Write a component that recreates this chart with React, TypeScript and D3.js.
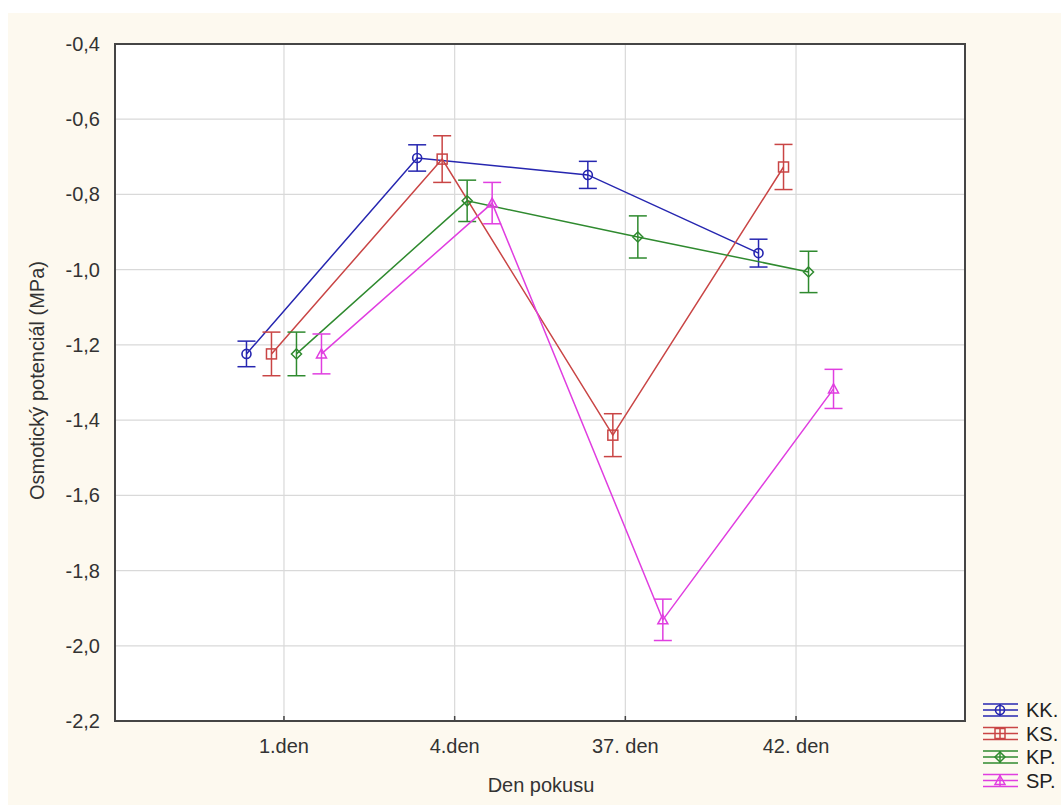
import React from "react";
import * as d3 from "d3";

const categories = ["1.den", "4.den", "37. den", "42. den"];
const seriesNames = ["KK.", "KS.", "KP.", "SP."];
const seriesColors = ["#2626b0", "#c94545", "#2f8a2f", "#e03ee0"];
const seriesShapes = ["circle", "square", "diamond", "triangle"];
const kkMean = [-1.224, -0.703, -0.748, -0.956];
const kkErr = [0.034, 0.035, 0.036, 0.037];
const ksMean = [-1.224, -0.706, -1.440, -0.727];
const ksErr = [0.058, 0.062, 0.057, 0.060];
const kpMean = [-1.224, -0.817, -0.913, -1.006];
const kpErr = [0.058, 0.055, 0.056, 0.055];
const spMean = [-1.224, -0.823, -1.931, -1.317];
const spErr = [0.053, 0.055, 0.055, 0.052];
const yTicks = [-0.4, -0.6, -0.8, -1.0, -1.2, -1.4, -1.6, -1.8, -2.0, -2.2];

const means = [kkMean, ksMean, kpMean, spMean];
const errs = [kkErr, ksErr, kpErr, spErr];

const W = 1061, H = 805;
const left = 115, right = 965, top = 44, bottom = 721;

function Marker({ shape, x, y, color }: { shape: string; x: number; y: number; color: string }) {
  const s = 5;
  if (shape === "circle") return <circle cx={x} cy={y} r={4.5} fill="none" stroke={color} strokeWidth={1.6} />;
  if (shape === "square") return <rect x={x - s} y={y - s} width={2 * s} height={2 * s} fill="none" stroke={color} strokeWidth={1.5} />;
  if (shape === "diamond") return <path d={`M${x},${y - s}L${x + s},${y}L${x},${y + s}L${x - s},${y}Z`} fill="none" stroke={color} strokeWidth={1.5} />;
  return <path d={`M${x},${y - s}L${x + s},${y + s - 1}L${x - s},${y + s - 1}Z`} fill="none" stroke={color} strokeWidth={1.5} />;
}

export default function App() {
  const x = d3.scalePoint<string>().domain(categories).range([left, right]).padding(0.99);
  const y = d3.scaleLinear().domain([-2.2, -0.4]).range([bottom, top]);
  const offsets = [-37.5, -12.5, 12.5, 37.5];
  const line = d3.line<[number, number]>().x(d => d[0]).y(d => d[1]);
  const fmt = (v: number) => v.toFixed(1).replace(".", ",");
  const font = "'Liberation Sans', Arial, sans-serif";

  return (
    <svg width={W} height={H} style={{ position: "absolute", left: 0, top: 0 }} fontFamily={font}>
      <rect x={0} y={0} width={W} height={H} fill="#ffffff" />
      <rect x={8} y={13} width={W - 8} height={H - 13} fill="#fdf9ef" />
      <rect x={left} y={top} width={right - left} height={bottom - top} fill="#ffffff" />
      {yTicks.map(t => (
        <line key={"g" + t} x1={left} x2={right} y1={y(t)} y2={y(t)} stroke="#d9d9d9" strokeWidth={1.2} />
      ))}
      {categories.map(c => (
        <line key={"gx" + c} x1={x(c)!} x2={x(c)!} y1={top} y2={bottom} stroke="#d9d9d9" strokeWidth={1.2} />
      ))}
      {yTicks.map(t => (
        <text key={"t" + t} x={100} y={y(t)} dy="0.35em" textAnchor="end" fontSize={20} fill="#333">{fmt(t)}</text>
      ))}
      {categories.map(c => (
        <g key={"xt" + c}>
          <line x1={x(c)!} x2={x(c)!} y1={bottom} y2={bottom - 5} stroke="#444" strokeWidth={1.5} />
          <text x={x(c)!} y={753} textAnchor="middle" fontSize={20} fill="#333">{c}</text>
        </g>
      ))}
      {means.map((m, si) => {
        const pts: [number, number][] = m.map((v, i) => [x(categories[i])! + offsets[si], y(v)]);
        const col = seriesColors[si];
        return (
          <g key={"s" + si}>
            <path d={line(pts)!} fill="none" stroke={col} strokeWidth={1.5} />
            {pts.map((p, i) => {
              const hi = y(m[i] + errs[si][i]);
              const lo = y(m[i] - errs[si][i]);
              return (
                <g key={i}>
                  <line x1={p[0]} x2={p[0]} y1={hi} y2={lo} stroke={col} strokeWidth={1.5} />
                  <line x1={p[0] - 9} x2={p[0] + 9} y1={hi} y2={hi} stroke={col} strokeWidth={1.5} />
                  <line x1={p[0] - 9} x2={p[0] + 9} y1={lo} y2={lo} stroke={col} strokeWidth={1.5} />
                  <Marker shape={seriesShapes[si]} x={p[0]} y={p[1]} color={col} />
                </g>
              );
            })}
          </g>
        );
      })}
      <rect x={left} y={top} width={right - left} height={bottom - top} fill="none" stroke="#454545" strokeWidth={2} />
      <text x={541} y={792} textAnchor="middle" fontSize={20} fill="#333">Den pokusu</text>
      <text transform={`translate(44,${(top + bottom) / 2 - 2}) rotate(-90)`} textAnchor="middle" fontSize={20} fill="#333">Osmotický potenciál (MPa)</text>
      {seriesNames.map((n, i) => {
        const cy = 710 + i * 23.5;
        const col = seriesColors[i];
        return (
          <g key={"l" + n}>
            <line x1={983} x2={1018} y1={cy - 6} y2={cy - 6} stroke={col} strokeWidth={1.5} />
            <line x1={983} x2={1018} y1={cy} y2={cy} stroke={col} strokeWidth={1.5} />
            <line x1={983} x2={1018} y1={cy + 6} y2={cy + 6} stroke={col} strokeWidth={1.5} />
            <line x1={1000} x2={1000} y1={cy - 6} y2={cy + 6} stroke={col} strokeWidth={1.5} />
            <Marker shape={seriesShapes[i]} x={1000} y={cy} color={col} />
            <text x={1026} y={cy} dy="0.35em" fontSize={20} fill="#222">{n}</text>
          </g>
        );
      })}
    </svg>
  );
}
